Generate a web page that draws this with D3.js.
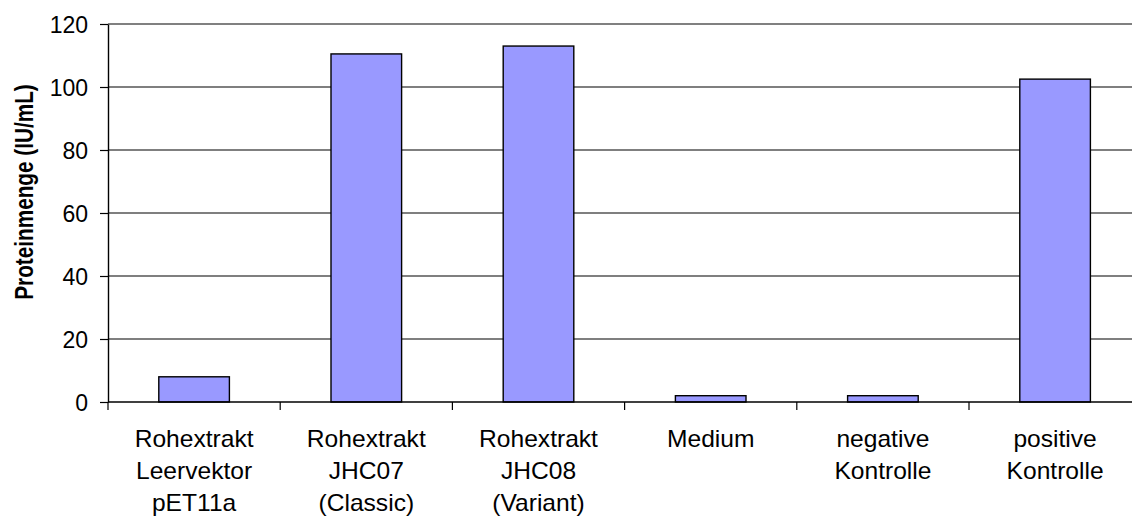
<!DOCTYPE html>
<html>
<head>
<meta charset="utf-8">
<script src="https://cdn.jsdelivr.net/npm/d3@7/dist/d3.min.js"></script>
<style>
  html, body { margin: 0; padding: 0; background: #fff; }
  svg { display: block; }
  text { font-family: "Liberation Sans", Arial, sans-serif; fill: #000; }
</style>
</head>
<body>
<svg id="chart" width="1132" height="518"></svg>
<script>
// Samples (each label is split into its printed lines)
const categories = [
  "Rohextrakt\nLeervektor\npET11a",
  "Rohextrakt\nJHC07\n(Classic)",
  "Rohextrakt\nJHC08\n(Variant)",
  "Medium",
  "negative\nKontrolle",
  "positive\nKontrolle"
];
// Protein amount per sample, IU/mL
const values = [8, 110.5, 113, 2, 2, 102.5];
const yTicks = [0, 20, 40, 60, 80, 100, 120];
const yTitle = "Proteinmenge (IU/mL)";

const svg = d3.select("#chart");
const plotLeft = 108, plotTop = 24, plotBottom = 402;
const step = 172.2;
const plotRight = plotLeft + step * categories.length;

const x = d3.scaleBand()
  .domain(categories)
  .range([plotLeft, plotRight])
  .paddingInner(0.59)
  .paddingOuter(0.295);

const y = d3.scaleLinear().domain([0, 120]).range([plotBottom, plotTop]);

// Horizontal gridlines
svg.append("g")
  .selectAll("line")
  .data(yTicks.filter(t => t > 0 && t < 120))
  .join("line")
  .attr("x1", plotLeft).attr("x2", plotRight)
  .attr("y1", d => y(d)).attr("y2", d => y(d))
  .attr("stroke", "#000").attr("stroke-width", 1.2);

// Plot-area top border
svg.append("line")
  .attr("x1", plotLeft).attr("x2", plotRight)
  .attr("y1", y(120)).attr("y2", y(120))
  .attr("stroke", "#808080").attr("stroke-width", 2);

// Bars
svg.append("g")
  .selectAll("rect")
  .data(values)
  .join("rect")
  .attr("x", (d, i) => x(categories[i]))
  .attr("width", x.bandwidth())
  .attr("y", d => y(d))
  .attr("height", d => y(0) - y(d))
  .attr("fill", "#9999ff")
  .attr("stroke", "#000")
  .attr("stroke-width", 1.4);

// Y axis
const yAxis = svg.append("g")
  .attr("transform", `translate(${plotLeft},0)`)
  .call(d3.axisLeft(y).tickValues(yTicks).tickSize(8).tickPadding(12).tickSizeOuter(0));
yAxis.select(".domain").attr("stroke", "#000").attr("stroke-width", 1.4);
yAxis.selectAll(".tick line").attr("stroke", "#000").attr("stroke-width", 1.2);
yAxis.selectAll(".tick text")
  .style("font-family", "'Liberation Sans', Arial, sans-serif")
  .style("font-size", "23px")
  .attr("dy", "0.36em");

// X axis: ticks at the category boundaries
const boundaries = d3.range(categories.length + 1).map(i => plotLeft + i * step);
svg.append("line")
  .attr("x1", plotLeft).attr("x2", plotRight)
  .attr("y1", plotBottom).attr("y2", plotBottom)
  .attr("stroke", "#000").attr("stroke-width", 1.4);
svg.append("g")
  .selectAll("line")
  .data(boundaries)
  .join("line")
  .attr("x1", d => d).attr("x2", d => d)
  .attr("y1", plotBottom).attr("y2", plotBottom + 8)
  .attr("stroke", "#000").attr("stroke-width", 1.2);

// Category labels (slightly wide lettering)
const labels = svg.append("g")
  .selectAll("text")
  .data(categories)
  .join("text")
  .attr("text-anchor", "middle")
  .style("font-size", "23px")
  .attr("transform", d => `translate(${x(d) + x.bandwidth() / 2},446.5) scale(1.07,1)`);
labels.selectAll("tspan")
  .data(d => d.split("\n"))
  .join("tspan")
  .attr("x", 0)
  .attr("y", (d, i) => i * 32.5)
  .text(d => d);

// Y axis title (condensed along its reading direction)
svg.append("text")
  .attr("transform", "translate(33,192) scale(1,0.83) rotate(-90)")
  .attr("text-anchor", "middle")
  .style("font-size", "25px")
  .style("font-weight", "bold")
  .text(yTitle);
</script>
</body>
</html>
